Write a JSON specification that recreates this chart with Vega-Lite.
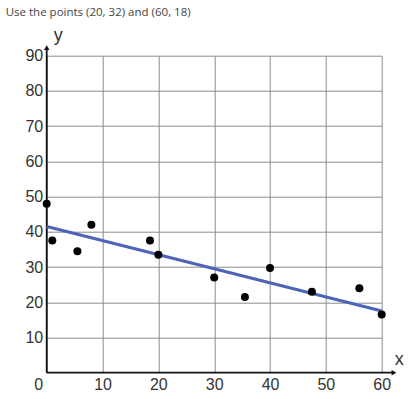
{
  "$schema": "https://vega.github.io/schema/vega-lite/v6.json",
  "autosize": "none",
  "width": 335,
  "height": 317,
  "padding": {"left": 46.7, "top": 55.7, "right": 28.3, "bottom": 26.3},
  "background": "white",
  "title": {
    "text": "Use the points (20, 32) and (60, 18)",
    "anchor": "start",
    "frame": "group",
    "dx": -41,
    "offset": 8,
    "font": "Open Sans",
    "fontSize": 11.5,
    "fontWeight": "normal",
    "color": "#444444"
  },
  "config": {
    "view": {"stroke": null},
    "axis": {
      "labelFont": "Liberation Sans",
      "labelFontSize": 16,
      "labelColor": "#333333",
      "titleFont": "Liberation Sans",
      "titleFontSize": 18,
      "titleFontWeight": "normal",
      "titleColor": "#333333",
      "gridColor": "#8c8c8c",
      "gridOpacity": 1,
      "gridWidth": 1,
      "ticks": false,
      "domain": false
    }
  },
  "datasets": {
    "pts": [
      {"x": 0, "y": 48},
      {"x": 1, "y": 37.5},
      {"x": 5.5, "y": 34.5},
      {"x": 8, "y": 42},
      {"x": 18.5, "y": 37.5},
      {"x": 20, "y": 33.5},
      {"x": 30, "y": 27},
      {"x": 35.5, "y": 21.5},
      {"x": 40, "y": 29.7},
      {"x": 47.5, "y": 23},
      {"x": 56, "y": 24},
      {"x": 60, "y": 16.5}
    ],
    "fit": [
      {"x": 0, "y": 41.5},
      {"x": 60, "y": 17.5}
    ]
  },
  "encoding": {
    "x": {
      "field": "x", "type": "quantitative",
      "scale": {"domain": [0, 60], "nice": false, "zero": false},
      "axis": {
        "grid": true,
        "values": [0, 10, 20, 30, 40, 50, 60],
        "labelOverlap": false,
        "labelFlush": false,
        "title": "x",
        "titleAngle": 0,
        "titleX": 352,
        "titleY": -13,
        "titleBaseline": "middle",
        "titleAlign": "center",
        "labelPadding": 4,
        "labelBaseline": "top",
        "labelAlign": {"expr": "datum.value == 0 ? 'right' : 'center'"},
        "labelOffset": {"expr": "datum.value == 0 ? -4 : 0"}
      }
    },
    "y": {
      "field": "y", "type": "quantitative",
      "scale": {"domain": [0, 90], "nice": false, "zero": false},
      "axis": {
        "grid": true,
        "values": [10, 20, 30, 40, 50, 60, 70, 80, 90],
        "labelOverlap": false,
        "labelFlush": false,
        "title": "y",
        "titleAngle": 0,
        "titleX": 11,
        "titleY": -20,
        "titleBaseline": "middle",
        "titleAlign": "center",
        "labelPadding": 4
      }
    }
  },
  "layer": [
    {
      "data": {"values": [{"x": 0, "y": 0, "y2": 92.5}]},
      "mark": {"type": "rule", "color": "#111111", "strokeWidth": 1.8, "clip": false},
      "encoding": {
        "y2": {"field": "y2"}
      }
    },
    {
      "data": {"values": [{"x": 0, "x2": 62, "y": 0}]},
      "mark": {"type": "rule", "color": "#111111", "strokeWidth": 1.8, "clip": false},
      "encoding": {
        "x2": {"field": "x2"}
      }
    },
    {
      "data": {"values": [{"x": 0, "y": 92.3, "s": "triangle-up"}, {"x": 62.2, "y": 0, "s": "triangle-right"}]},
      "mark": {"type": "point", "filled": true, "color": "#111111", "size": 30, "opacity": 1, "clip": false},
      "encoding": {
        "shape": {"field": "s", "type": "nominal", "scale": null, "legend": null}
      }
    },
    {
      "data": {"name": "fit"},
      "mark": {"type": "line", "color": "#4d64b8", "strokeWidth": 3},
      "encoding": {}
    },
    {
      "data": {"name": "pts"},
      "mark": {"type": "circle", "color": "#000000", "size": 64, "opacity": 1, "clip": false},
      "encoding": {}
    }
  ]
}
